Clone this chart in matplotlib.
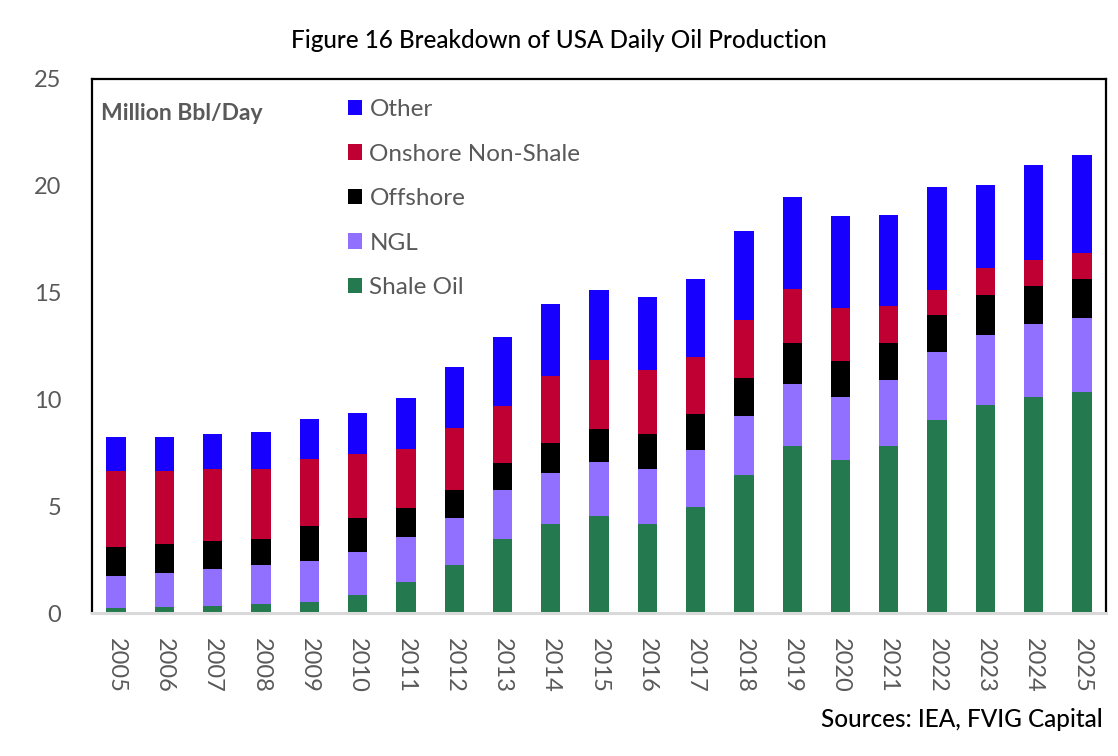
import matplotlib
matplotlib.use("Agg")
import matplotlib.pyplot as plt
import numpy as np
from matplotlib.patches import Patch

years = [str(y) for y in range(2005, 2026)]
shale = [0.25, 0.30, 0.35, 0.44, 0.53, 0.85, 1.46, 2.25, 3.47, 4.17, 4.54, 4.17, 4.96, 6.45, 7.85, 7.15, 7.85, 9.06, 9.76, 10.14, 10.33]
ngl = [1.49, 1.58, 1.72, 1.81, 1.91, 2.00, 2.10, 2.20, 2.28, 2.38, 2.52, 2.57, 2.70, 2.80, 2.89, 2.99, 3.08, 3.17, 3.27, 3.40, 3.49]
offshore = [1.35, 1.35, 1.30, 1.22, 1.63, 1.59, 1.35, 1.32, 1.26, 1.44, 1.54, 1.63, 1.68, 1.77, 1.91, 1.68, 1.72, 1.73, 1.86, 1.77, 1.82]
onshore = [3.55, 3.41, 3.36, 3.26, 3.13, 2.99, 2.80, 2.89, 2.67, 3.13, 3.26, 3.03, 2.66, 2.68, 2.54, 2.44, 1.70, 1.17, 1.26, 1.21, 1.21]
other = [1.63, 1.63, 1.68, 1.73, 1.87, 1.96, 2.38, 2.88, 3.26, 3.36, 3.27, 3.41, 3.65, 4.20, 4.28, 4.32, 4.27, 4.80, 3.87, 4.44, 4.58]

series = [
    ("Shale Oil", shale, "#247A4E"),
    ("NGL", ngl, "#9270FF"),
    ("Offshore", offshore, "#000000"),
    ("Onshore Non-Shale", onshore, "#C00033"),
    ("Other", other, "#1800FF"),
]

FONT = ["Lato", "DejaVu Sans"]
plt.rcParams["font.family"] = FONT

fig = plt.figure(figsize=(11.18, 7.56), dpi=100)
ax = fig.add_axes([0.0823, 0.1886, 0.9893 - 0.0823, 0.8959 - 0.1886])

x = np.arange(len(years))
bottom = np.zeros(len(years))
for name, vals, col in series:
    v = np.array(vals)
    ax.bar(x, v, width=0.4, bottom=bottom, color=col, linewidth=0, label=name)
    bottom += v

ax.set_xlim(-0.5, len(years) - 0.5)
ax.set_ylim(0, 25)
ax.set_yticks([0, 5, 10, 15, 20, 25])
ax.set_xticks(x)
ax.set_xticklabels(years, rotation=270)
ax.tick_params(axis="both", length=0, colors="#595959", labelsize=17)
ax.tick_params(axis="y", pad=22)
ax.tick_params(axis="x", pad=18)

for s in ["left", "top", "right"]:
    ax.spines[s].set_color("black")
    ax.spines[s].set_linewidth(1.6)
ax.spines["bottom"].set_color("#D9D9D9")
ax.spines["bottom"].set_linewidth(2.2)

handles = [Patch(facecolor=c, edgecolor="none") for _, _, c in series][::-1]
labels = [n for n, _, _ in series][::-1]
leg = ax.legend(handles, labels, loc="upper left", bbox_to_anchor=(0.252, 0.962),
                frameon=False, fontsize=17.5, handlelength=0.6, handleheight=0.6,
                handletextpad=0.3, labelspacing=0.97, borderaxespad=0, borderpad=0)
for t in leg.get_texts():
    t.set_color("#595959")

ax.text(0.009, 0.935, "Million Bbl/Day", transform=ax.transAxes, fontsize=16.5,
        color="#595959", fontweight="bold", va="center", ha="left")

fig.text(0.500, 0.947, "Figure 16 Breakdown of USA Daily Oil Production", fontsize=17.5,
         color="black", ha="center", va="center", fontweight="medium")
fig.text(0.986, 0.048, "Sources: IEA, FVIG Capital", fontsize=17.5, color="black",
         ha="right", va="center", fontweight="medium")

fig.savefig("out.png", dpi=100)
